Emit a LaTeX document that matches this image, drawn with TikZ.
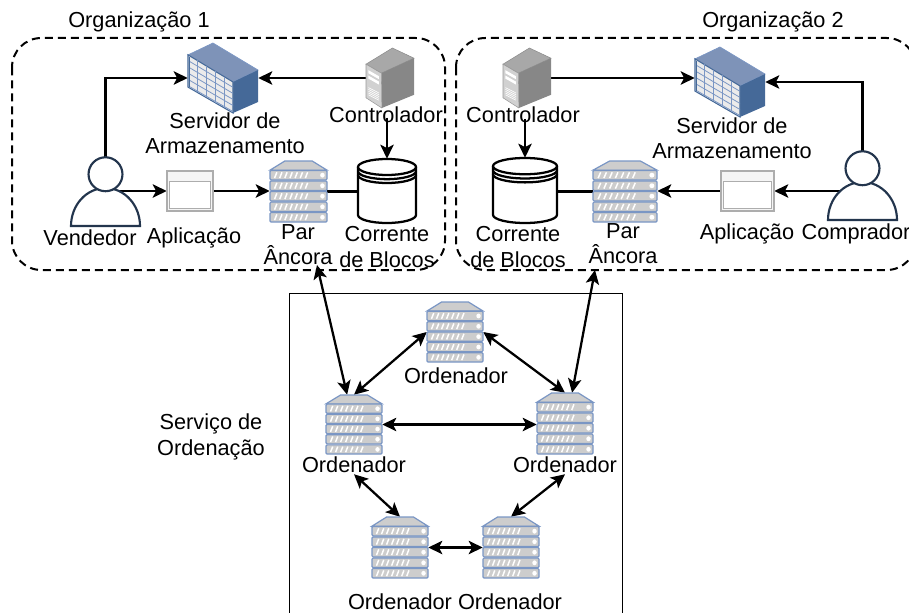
\documentclass[tikz,border=0pt]{standalone}
\usepackage{fontspec}
\setmainfont{Liberation Sans}
\usetikzlibrary{arrows.meta,backgrounds,fit}

\definecolor{rackline}{RGB}{122,150,196}
\definecolor{rackfill}{RGB}{205,205,205}
\definecolor{storetop}{RGB}{126,147,184}
\definecolor{storeside}{RGB}{69,105,152}
\definecolor{personline}{RGB}{35,53,77}

\tikzset{
  lbl/.style={inner sep=0.75pt,align=center,font=\fontsize{16.3}{18.9}\selectfont},
  orgline/.style={line width=1.5pt,dash pattern=on 6pt off 3.75pt,rounded corners=22pt},
  link/.style={line width=1.7pt,-{Stealth[length=10.5pt,width=10pt,inset=2.5pt]}},
  duplex/.style={line width=1.7pt,{Stealth[length=10.5pt,width=10pt,inset=2.5pt]}-{Stealth[length=10.5pt,width=10pt,inset=2.5pt]}},
  plainlink/.style={line width=1.7pt},
  rack/.pic={
    \fill[rackfill,draw=rackline,line width=0.9pt] (0,.15) -- (.26,0) -- (.74,0) -- (1,.15) -- cycle;
    \foreach \y in {.155,.328,.5,.673,.845}{
      \draw[rackfill,fill=rackfill,draw=rackline,line width=0.9pt,rounded corners=0.8pt] (0,\y) rectangle (1,\y+.155);
      \foreach \u in {.08,.17,.26,.35,.44,.53,.62}
        \draw[white,line width=1.1pt] (\u,\y+.125) -- (\u+.04,\y+.03);
      \fill[white] (.92,\y+.0775) circle [x radius=.04,y radius=.04];
    }
  },
  store/.pic={
    \fill[storetop,draw=rackline,line width=0.5pt] (0,.17) -- (.357,0) -- (1,.386) -- (.643,.557) -- cycle;
    \fill[storeside] (.643,.557) -- (1,.386) -- (1,.843) -- (.643,1) -- cycle;
    \fill[black!8,draw=storeside,line width=0.8pt] (0,.17) -- (.643,.557) -- (.643,1) -- (0,.63) -- cycle;
    \foreach \u in {.2,.4,.6,.8}
      \draw[rackline,line width=0.6pt] ({\u*.643},{.17+.387*\u}) -- ({\u*.643},{.63+.37*\u});
    \foreach \v in {.08,.17,.26,.35,.44}{
      \draw[rackline,line width=0.6pt] (0,.17+\v) -- (.643,.557+\v*.96);
    }
    \draw[storeside,line width=1pt] (.02,.2) -- (.02,.63);
  },
  ctrl/.pic={
    \fill[black!34,draw=black!45,line width=0.4pt] (0,.27) -- (.55,0) -- (1,.17) -- (.32,.42) -- cycle;
    \fill[black!47] (.32,.42) -- (1,.17) -- (1,.78) -- (.33,1) -- cycle;
    \fill[black!18,draw=black!40,line width=0.4pt] (0,.27) -- (.32,.42) -- (.33,1) -- (0,.83) -- cycle;
    \fill[white] (.05,.37) -- (.27,.47) -- (.27,.52) -- (.05,.42) -- cycle;
    \fill[white] (.05,.46) -- (.27,.56) -- (.27,.61) -- (.05,.51) -- cycle;
    \foreach \y in {.66,.69,.72,.75,.78}
      \draw[white,line width=0.5pt] (.05,\y) -- (.27,\y+.09);
  },
  person/.pic={
    \draw[personline,fill=white,line width=1.6pt] (0,1) .. controls (0,.7) and (.22,.45) .. (.5,.45) .. controls (.78,.45) and (1,.7) .. (1,1) -- cycle;
    \draw[personline,fill=white,line width=1.6pt] (.5,.25) circle [x radius=.246,y radius=.246];
  },
  window/.pic={
    \draw[black!32,fill=black!4,line width=0.8pt] (0,0) rectangle (1,1);
    \draw[black!32,fill=white,line width=0.8pt] (.05,.27) rectangle (.95,.93);
  },
  chain/.pic={
    \draw[line width=1.7pt,fill=white] (0,.125) -- (0,.875) arc [start angle=180,end angle=0,x radius=.5,y radius=.125] -- (1,.125);
    \draw[line width=1.7pt,fill=white] (.5,.125) ellipse [x radius=.5,y radius=.125];
    \draw[line width=1.7pt] (0,.19) arc [start angle=180,end angle=0,x radius=.5,y radius=.125];
    \draw[line width=1.7pt] (0,.25) arc [start angle=180,end angle=0,x radius=.5,y radius=.125];
  }
}

% name, icon, left, top, right, bottom
\newcommand{\placeicon}[6]{%
  \node[fit={(#3,#4) (#5,#6)},inner sep=0pt] (#1) {};
  \pgfmathsetmacro{\iconw}{(#5-#3)*0.75}
  \pgfmathsetmacro{\iconh}{(#6-#4)*0.75}
  \begin{scope}[shift={(#3,#4)},x=\iconw pt,y=\iconh pt]
    \pic[transform shape] at (0,0) {#2};
  \end{scope}
}

\begin{document}
\begin{tikzpicture}[x=0.75pt,y=0.75pt,yscale=-1,xscale=1]
\useasboundingbox (0,0) rectangle (909,613);

%Icons: Organizacao 1
\placeicon{storeA}{store}{188}{43}{258}{113}
\placeicon{ctrlA}{ctrl}{366}{48}{414}{108}
\placeicon{personA}{person}{71}{157}{140}{226}
\placeicon{appA}{window}{167}{171}{213}{211}
\placeicon{peerA}{rack}{270}{161}{327}{222}
\placeicon{chainA}{chain}{358}{159}{416}{223}

%Icons: Organizacao 2
\placeicon{storeB}{store}{695}{47}{765}{117}
\placeicon{ctrlB}{ctrl}{503}{48}{551}{108}
\placeicon{personB}{person}{828}{151}{897}{220}
\placeicon{appB}{window}{721}{171}{774}{211}
\placeicon{peerB}{rack}{593}{161}{657}{222}
\placeicon{chainB}{chain}{493}{158}{557}{223}

%Icons: Ordenadores
\placeicon{ordT}{rack}{427}{302}{483}{362}
\placeicon{ordL}{rack}{326}{395}{382}{454}
\placeicon{ordR}{rack}{537}{393}{593}{454}
\placeicon{ordBL}{rack}{372}{517}{428}{578}
\placeicon{ordBR}{rack}{483}{517}{539}{578}

% Text Node
\node[lbl] (orgA) at (139,22) {Organização 1};
\node[lbl] (orgB) at (773,22) {Organização 2};
\node[lbl] (storelblA) at (225,133) {Servidor de\\Armazenamento};
\node[lbl] (storelblB) at (732,138) {Servidor de\\Armazenamento};
\node[lbl] (ctrllblA) at (386,115) {Controlador};
\node[lbl] (ctrllblB) at (523,115) {Controlador};
\node[lbl] (vendedor) at (90,238) {Vendedor};
\node[lbl] (applblA) at (194,238) {Aplicação};
\node[lbl] (applblB) at (747,234) {Aplicação};
\node[lbl] (comprador) at (856,234) {Comprador};
\node[lbl] (peerlblA) at (298,245) {Par\\Âncora};
\node[lbl] (peerlblB) at (623,244) {Par\\Âncora};
\node[lbl] (chainlblA) at (387,247) {Corrente\\de Blocos};
\node[lbl] (chainlblB) at (518,247) {Corrente\\de Blocos};
\node[lbl] (servico) at (211,437) {Serviço de\\Ordenação};
\node[lbl] (ordlblT) at (456,376) {Ordenador};
\node[lbl] (ordlblL) at (354,465) {Ordenador};
\node[lbl] (ordlblR) at (565,465) {Ordenador};
\node[lbl] (ordlblBL) at (400,602) {Ordenador};
\node[lbl] (ordlblBR) at (510,602) {Ordenador};

\coordinate (linkA) at (317,265);
\coordinate (linkB) at (595,270);

\begin{scope}[on background layer]
%Shapes: groups
\draw[orgline] (12,38) rectangle (445,270);
\draw[orgline] (456,38) rectangle (916,270);
\draw[line width=0.75pt] (289,293) rectangle (622,650);

%Straight Lines
\draw[link] (personA.north) |- (storeA.west);
\draw[link] (ctrlA.west) -- (storeA.east);
\draw[link] ([yshift=-5pt]ctrllblA.south -| chainA.north) -- (chainA.north);
\draw[link] (personA.center |- appA.west) -- (appA.west);
\draw[link] (appA.east) -- (appA.east -| peerA.west);
\draw[plainlink] (peerA.east) -- (peerA.east -| chainA.west);

\draw[link] (ctrlB.east) -- (ctrlB.east -| storeB.west);
\draw[link] (personB.north) |- (storeB.east);
\draw[link] ([yshift=-4pt]ctrllblB.south -| chainB.north) -- (chainB.north);
\draw[link] (personB.center |- appB.east) -- (appB.east);
\draw[link] (appB.west) -- (appB.west -| peerB.east);
\draw[plainlink] (peerB.west) -- (peerB.west -| chainB.east);

\draw[duplex] (linkA) -- (ordL.103);
\draw[duplex] (linkB) -- (ordR.77);
\draw[duplex] (ordT.west) -- (ordL.north);
\draw[duplex] (ordT.east) -- (ordR.north);
\draw[duplex] (ordL.east) -- (ordL.east -| ordR.west);
\draw[duplex] (ordlblL.south) -- (ordBL.north);
\draw[duplex] (ordlblR.south) -- (ordBR.north);
\draw[duplex] (ordBL.east) -- (ordBR.west);
\end{scope}

\end{tikzpicture}
\end{document}
